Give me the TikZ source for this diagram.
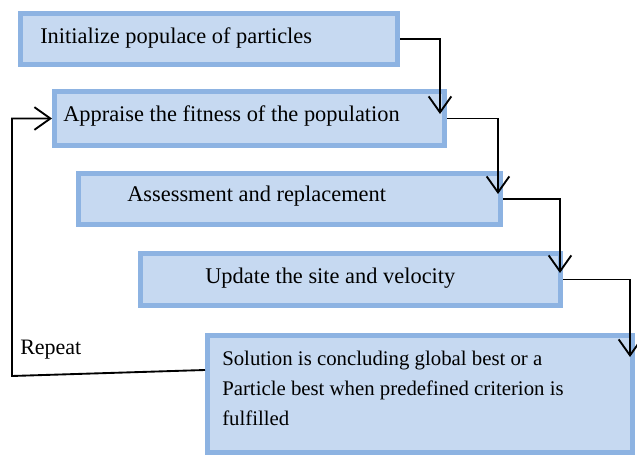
\documentclass[tikz,border=0pt]{standalone}
\usepackage{fontspec}
\setmainfont{Liberation Serif}
\usetikzlibrary{arrows.meta,calc}
\definecolor{boxfill}{RGB}{198,217,241}
\definecolor{boxline}{RGB}{141,179,226}
\tikzset{
  box/.style={draw=boxline, fill=boxfill, line width=3.75pt, inner sep=0pt},
  txt/.style={font=\fontsize{16.8}{21}\selectfont, inner sep=0pt, anchor=base west, align=left},
  arr/.style={line width=1.4pt, -{Straight Barb[length=12pt,width=17pt,line width=1.4pt]}}
}
\begin{document}
\begin{tikzpicture}[x=0.75pt,y=-0.75pt]
\useasboundingbox (0,0) rectangle (637,456);
\node[box, minimum width=282.75pt, minimum height=38.25pt] (b1) at (209,39) {};
\node[box, minimum width=292.5pt, minimum height=40.5pt] (b2) at (249.5,118.5) {};
\node[box, minimum width=316.5pt, minimum height=38.25pt] (b3) at (289.5,199) {};
\node[box, minimum width=315pt, minimum height=39pt] (b4) at (350.5,279.5) {};
\node[box, minimum width=318.75pt, minimum height=87.75pt] (b5) at (420,394) {};
\node[txt] (t1) at (40,44) {Initialize populace of particles};
\node[txt] (t2) at (63,122) {Appraise the fitness of the population};
\node[txt] (t3) at (127,202) {Assessment and replacement};
\node[txt] (t4) at (205,284) {Update the site and velocity};
\node[txt, anchor=north west, font=\fontsize{15.6}{22.5}\selectfont] (t5) at (222,351) {Solution is concluding global best or a\\Particle best when predefined criterion is\\fulfilled};
\node[txt, font=\fontsize{16.5}{18}\selectfont] (rep) at (20,355) {Repeat};
\coordinate (p2) at (440,114);
\coordinate (p3) at (498,194);
\coordinate (p4) at (560,273);
\coordinate (p5) at (630,357);
\draw[arr] (b1.east) -| (p2);
\draw[arr] (b2.east) -| (p3);
\draw[arr] (b3.east) -| (p4);
\draw[arr] (b4.east) -| (p5);
\coordinate (c1) at (12,376);
\draw[arr] ($(b5.north west)+(0,37)$) -- (c1) |- (b2.west);
\end{tikzpicture}
\end{document}
